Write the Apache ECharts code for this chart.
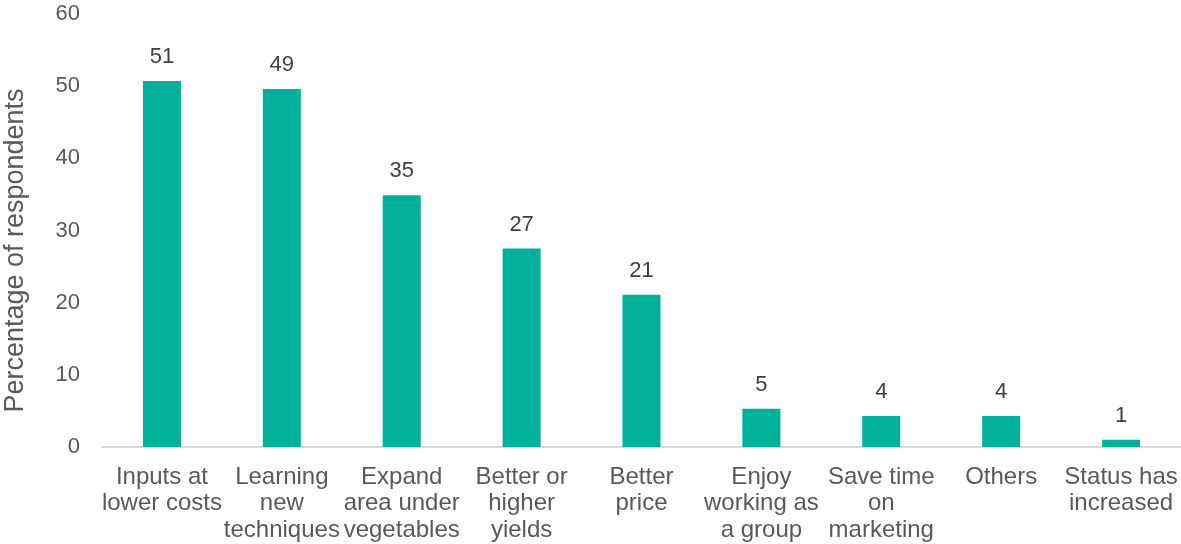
<!DOCTYPE html>
<html>
<head>
<meta charset="utf-8">
<script src="https://cdn.jsdelivr.net/npm/echarts@6/dist/echarts.min.js"></script>
<style>
  html, body { margin: 0; padding: 0; background: #fff; }
  #chart { width: 1181px; height: 544px; }
</style>
</head>
<body>
<div id="chart"></div>
<script>
// categories and values
var categories = [
  'Inputs at\nlower costs',
  'Learning\nnew\ntechniques',
  'Expand\narea under\nvegetables',
  'Better or\nhigher\nyields',
  'Better\nprice',
  'Enjoy\nworking as\na group',
  'Save time\non\nmarketing',
  'Others',
  'Status has\nincreased'
];
var values = [50.7, 49.6, 34.9, 27.5, 21.1, 5.3, 4.3, 4.3, 1.0];
var shownLabels = [51, 49, 35, 27, 21, 5, 4, 4, 1];
var yTicks = [0, 10, 20, 30, 40, 50, 60];

var myChart = echarts.init(document.getElementById('chart'));
var font = '"Liberation Sans", Arial, sans-serif';

var option = {
  animation: false,
  grid: { left: 102, right: 0, top: 14, bottom: 97, containLabel: false, outerBoundsMode: 'none' },
  xAxis: {
    type: 'category',
    data: categories,
    axisLine: { lineStyle: { color: '#d9d9d9', width: 2 } },
    axisTick: { show: false },
    axisLabel: {
      interval: 0,
      color: '#595959',
      fontFamily: font,
      fontSize: 24,
      lineHeight: 26.5,
      margin: 17
    }
  },
  yAxis: {
    type: 'value',
    min: yTicks[0],
    max: yTicks[yTicks.length - 1],
    interval: 10,
    name: 'Percentage of respondents',
    nameLocation: 'middle',
    nameGap: 73,
    nameRotate: 90,
    nameTextStyle: {
      color: '#595959', fontFamily: font, fontSize: 27,
      padding: [0, 40, 0, 0]
    },
    axisLine: { show: false },
    axisTick: { show: false },
    splitLine: { show: false },
    axisLabel: {
      color: '#595959',
      fontFamily: font,
      fontSize: 22,
      margin: 22
    }
  },
  series: [{
    type: 'bar',
    data: values,
    barWidth: 38,
    itemStyle: { color: '#00b09b' },
    label: {
      show: true,
      position: 'top',
      distance: 13,
      color: '#404040',
      fontFamily: font,
      fontSize: 22,
      formatter: function (p) { return shownLabels[p.dataIndex]; }
    }
  }]
};
myChart.setOption(option);
</script>
</body>
</html>
